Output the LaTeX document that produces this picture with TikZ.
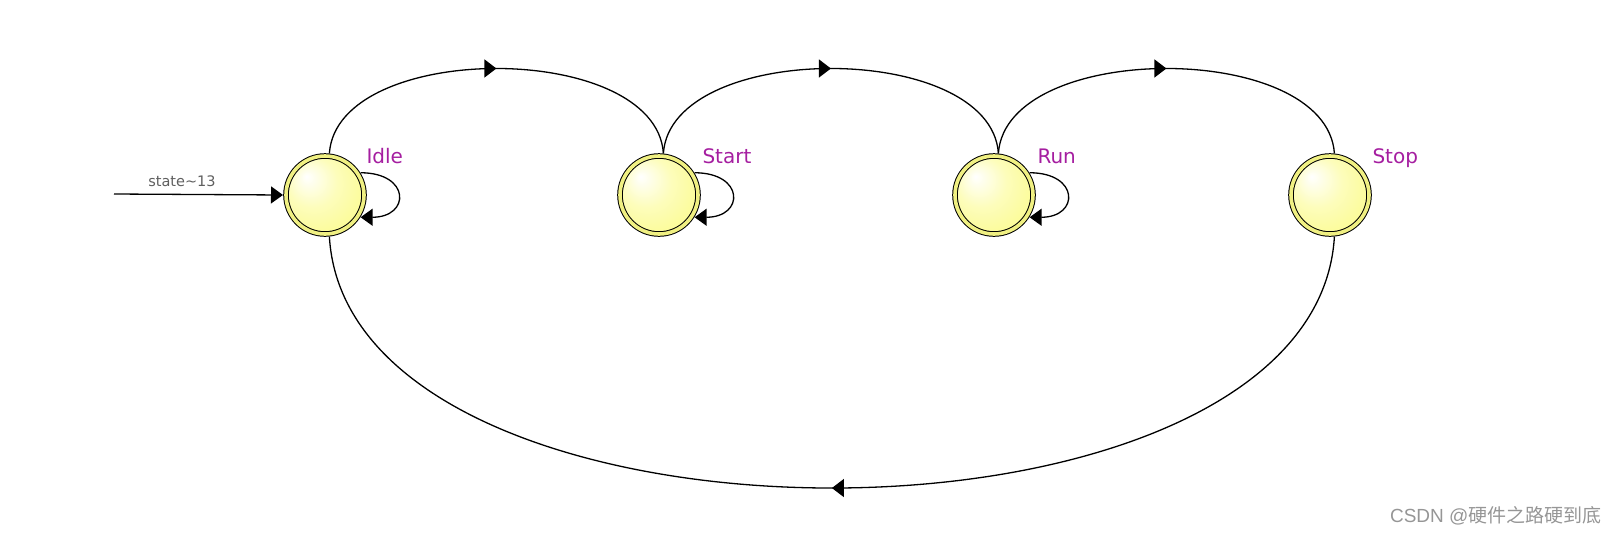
\documentclass[tikz,border=0pt]{standalone}
\usepackage{fontspec}
\setmainfont{DejaVu Sans}
\newfontfamily\cjkfont{Noto Sans CJK SC}
\newfontfamily\wmfont{Liberation Sans}
\usepackage{tikz}
\usetikzlibrary{arrows.meta, positioning, decorations.markings}
\definecolor{FSMpurple}{RGB}{165,30,160}
\definecolor{FSMring}{RGB}{240,240,130}
\definecolor{FSMyellow}{RGB}{250,250,105}
\definecolor{FSMgray}{RGB}{95,95,95}
\definecolor{WMgray}{RGB}{150,150,150}
\pgfdeclareradialshading{fsmball}{\pgfpoint{-12bp}{12bp}}{color(0bp)=(white); color(16bp)=(FSMyellow!45!white); color(50bp)=(FSMyellow)}

\begin{document}
\begin{tikzpicture}[x=1pt, y=1pt,
    fsmstate/.style={circle, minimum size=78pt, inner sep=0pt, outer sep=3pt, draw=black, line width=1pt, double=FSMring, double distance=3.6pt, shading=fsmball},
    statename/.style={anchor=base west, text=FSMpurple, font=\fontsize{20}{24}\selectfont},
    link/.style={line width=1.3pt},
    endtip/.style={-{Triangle[length=12pt, width=17pt]}},
    midarrow/.style={postaction={decorate}, decoration={markings, mark=at position 0.5 with {\arrow{Triangle[length=12pt, width=18pt]}}}}]
  \useasboundingbox (0,0) rectangle (1618,-539);

  % states
  \node[fsmstate] (idle) at (325,-195) {};
  \node[fsmstate] (start) at (659,-195) {};
  \node[fsmstate] (run) at (994,-195) {};
  \node[fsmstate] (stop) at (1330,-195) {};

  \node[statename] (idlename) at ([shift={(38,32)}]idle.center) {Idle};
  \node[statename] (startname) at ([shift={(40,32)}]start.center) {Start};
  \node[statename] (runname) at ([shift={(40,32)}]run.center) {Run};
  \node[statename] (stopname) at ([shift={(39,32)}]stop.center) {Stop};

  % reset entry
  \coordinate (entry) at (114,-194);
  \draw[link, endtip] (entry) -- (idle.west);
  \node[text=FSMgray, font=\fontsize{14.5}{17}\selectfont] (entrylabel) at (182,-181) {state\textasciitilde13};

  % transitions
  \draw[link, midarrow] (idle.84) .. controls +(8,113) and +(-8,113) .. (start.84);
  \draw[link, midarrow] (start.84) .. controls +(8,113) and +(-8,113) .. (run.84);
  \draw[link, midarrow] (run.84) .. controls +(8,113) and +(-8,113) .. (stop.84);
  \draw[link, midarrow] (stop.-84) .. controls +(-20,-335) and +(20,-335) .. (idle.-84);

  % self loops
  \draw[link, endtip] (idle.32) .. controls +(50,0) and +(50,0) .. (idle.-32);
  \draw[link, endtip] (start.32) .. controls +(50,0) and +(50,0) .. (start.-32);
  \draw[link, endtip] (run.32) .. controls +(50,0) and +(50,0) .. (run.-32);

  \node[anchor=east, text=WMgray, font=\fontsize{19}{22}\selectfont] (watermark) at (1605,-516) {\wmfont CSDN @\cjkfont 硬件之路硬到底};
\end{tikzpicture}
\end{document}
